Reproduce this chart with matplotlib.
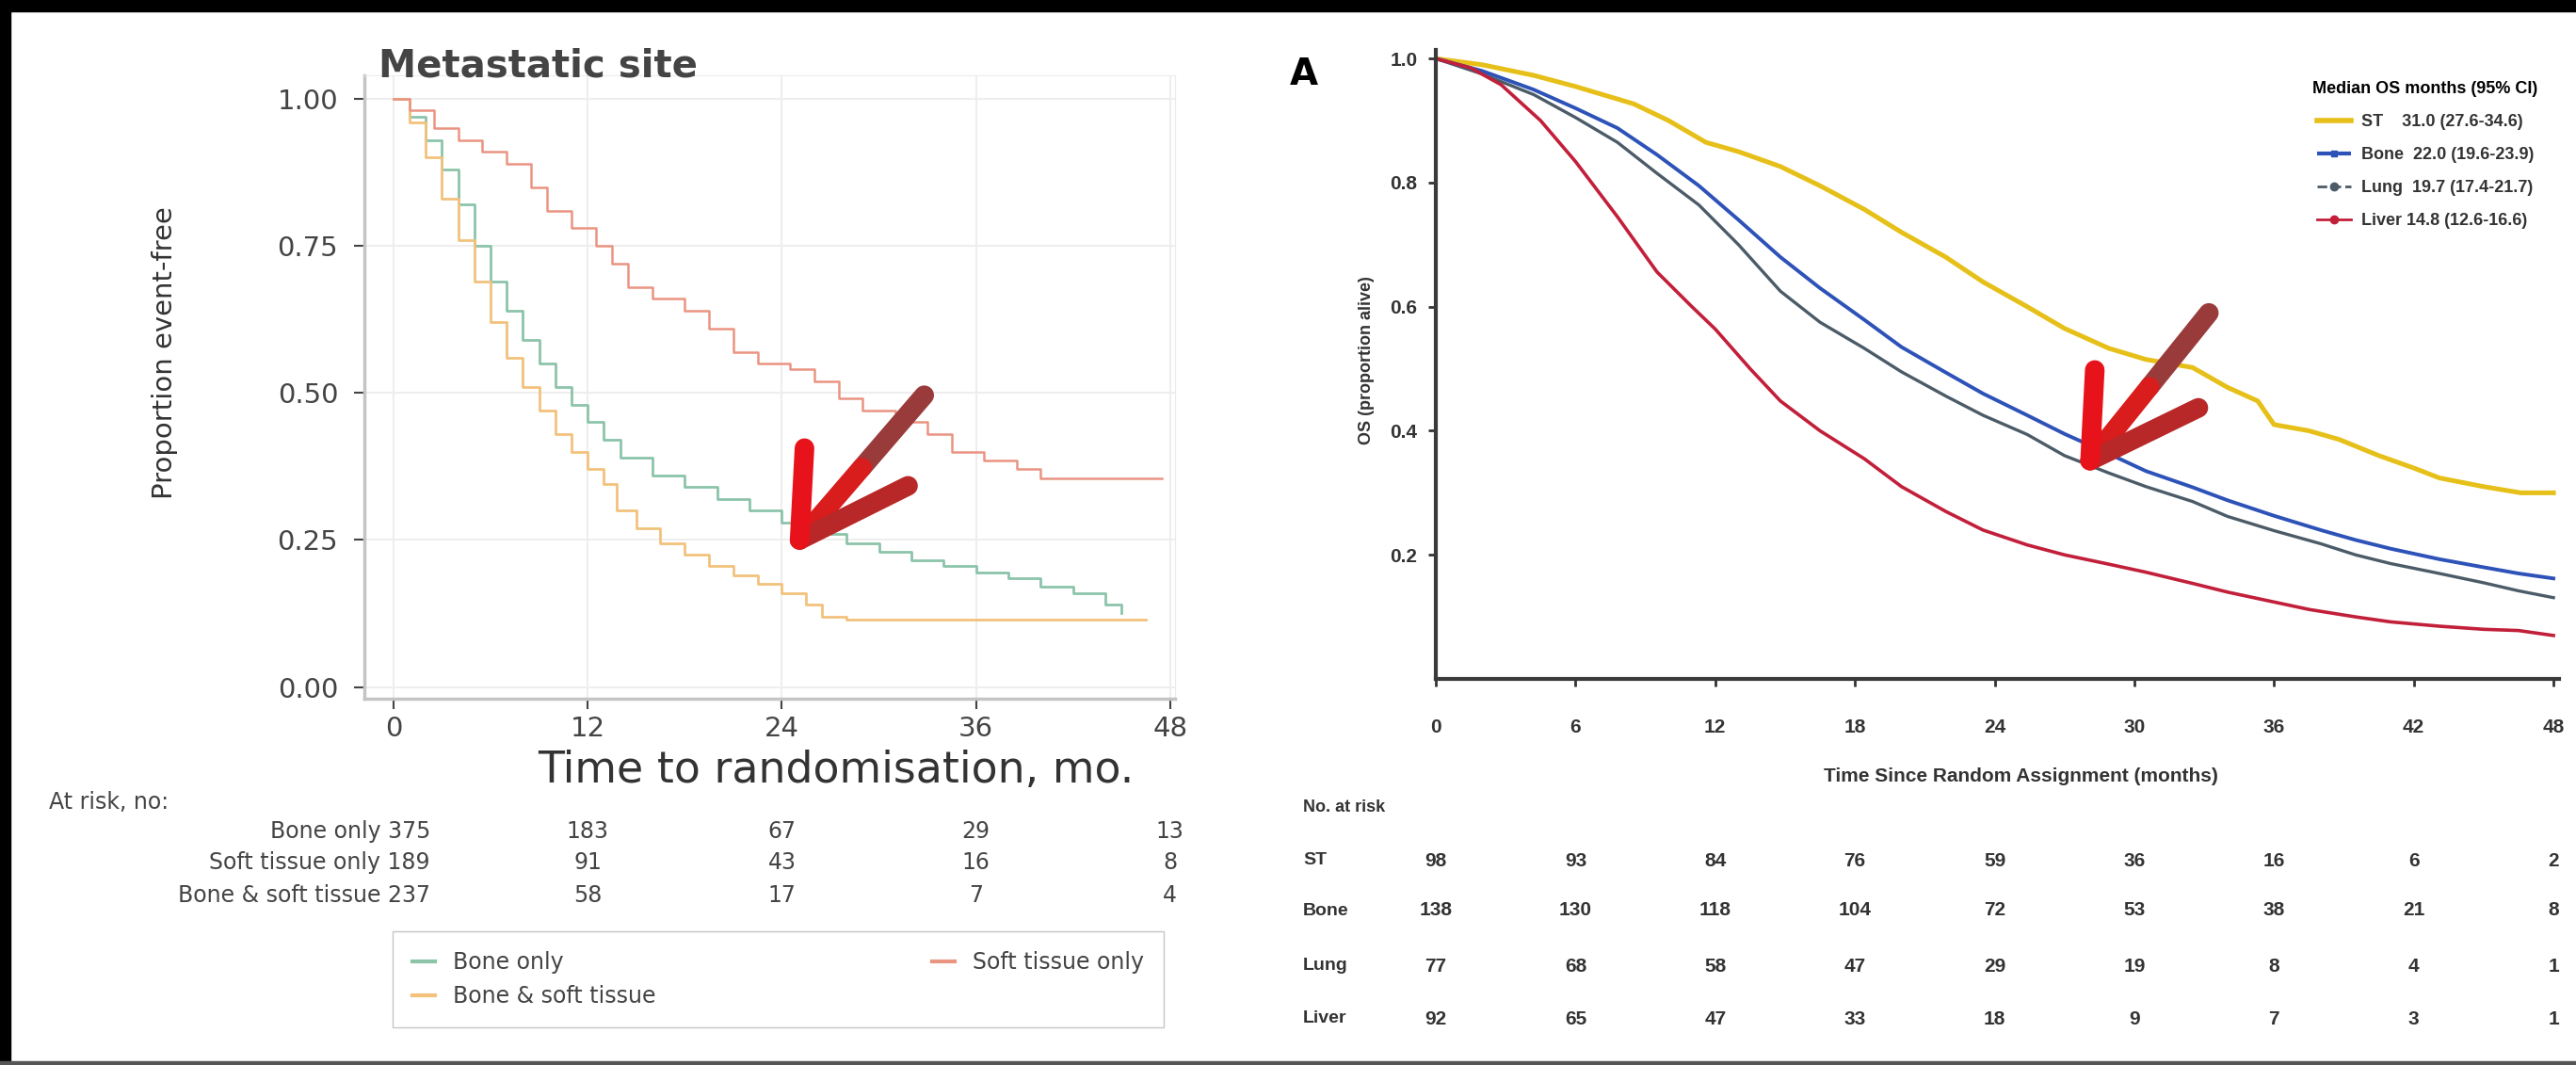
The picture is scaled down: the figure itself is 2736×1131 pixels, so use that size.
import numpy as np
import matplotlib.pyplot as plt
from matplotlib.lines import Line2D
from matplotlib.patches import Rectangle
from matplotlib.transforms import blended_transform_factory

# ---- left panel: metastatic site (proportion event-free) ----
bone_t = [0, 1, 2, 3, 4, 5, 6, 7, 8, 9, 10, 11, 12, 13, 14, 16, 18, 20, 22, 24,
          26, 28, 30, 32, 34, 36, 38, 40, 42, 44, 45]
bone_s = [1.0, 0.97, 0.93, 0.88, 0.82, 0.75, 0.69, 0.64, 0.59, 0.55, 0.51, 0.48,
          0.45, 0.42, 0.39, 0.36, 0.34, 0.32, 0.30, 0.28, 0.26, 0.245, 0.23, 0.215,
          0.205, 0.195, 0.185, 0.17, 0.16, 0.14, 0.125]
soft_t = [0, 1, 2.5, 4, 5.5, 7, 8.5, 9.5, 11, 12.5, 13.5, 14.5, 16, 18, 19.5, 21,
          22.5, 24.5, 26, 27.5, 29, 31, 33, 34.5, 36.5, 38.5, 40, 47.5]
soft_s = [1.0, 0.98, 0.95, 0.93, 0.91, 0.89, 0.85, 0.81, 0.78, 0.75, 0.72, 0.68,
          0.66, 0.64, 0.61, 0.57, 0.55, 0.54, 0.52, 0.49, 0.47, 0.45, 0.43, 0.40,
          0.385, 0.37, 0.355, 0.355]
both_t = [0, 1, 2, 3, 4, 5, 6, 7, 8, 9, 10, 11, 12, 13, 13.8, 15, 16.5, 18, 19.5,
          21, 22.5, 24, 25.5, 26.5, 28, 46.5]
both_s = [1.0, 0.96, 0.90, 0.83, 0.76, 0.69, 0.62, 0.56, 0.51, 0.47, 0.43, 0.40,
          0.37, 0.345, 0.30, 0.27, 0.245, 0.225, 0.205, 0.19, 0.175, 0.16, 0.14,
          0.12, 0.115, 0.115]

left_names = ['Bone only', 'Soft tissue only', 'Bone & soft tissue']
left_risk_times = [0, 12, 24, 36, 48]
risk_bone = [375, 183, 67, 29, 13]
risk_soft = [189, 91, 43, 16, 8]
risk_both = [237, 58, 17, 7, 4]

# ---- right panel: OS by metastatic site ----
st_t = [0, 2, 4.2, 6, 8.5, 10, 11.6, 13, 14.8, 16.5, 18.4, 20, 21.9, 23.5, 25.4, 27,
        28.9, 30.5, 32.5, 34, 35.3, 36, 37.5, 38.8, 40.5, 42, 43.1, 45, 46.6, 48]
st_s = [1.0, 0.99, 0.973, 0.955, 0.927, 0.90, 0.865, 0.85, 0.826, 0.795, 0.757, 0.72,
        0.68, 0.64, 0.60, 0.565, 0.533, 0.515, 0.502, 0.47, 0.448, 0.41, 0.40, 0.386,
        0.36, 0.34, 0.324, 0.31, 0.30, 0.30]
bn_t = [0, 2, 4.2, 6, 7.8, 9.5, 11.3, 13, 14.8, 16.5, 18.4, 20, 21.9, 23.5, 25.4, 27,
        28.9, 30.5, 32.5, 34, 36, 38, 39.5, 41, 43.1, 45, 46.5, 48]
bn_s = [1.0, 0.98, 0.95, 0.92, 0.888, 0.845, 0.795, 0.74, 0.68, 0.63, 0.579, 0.535,
        0.494, 0.46, 0.425, 0.395, 0.363, 0.335, 0.309, 0.288, 0.263, 0.24, 0.224,
        0.21, 0.193, 0.18, 0.17, 0.162]
lg_t = [0, 2, 4.2, 6, 7.8, 9.5, 11.3, 13, 14.8, 16.5, 18.4, 20, 21.9, 23.5, 25.4, 27,
        28.9, 30.5, 32.5, 34, 36, 38, 39.5, 41, 43.1, 45, 46.5, 48]
lg_s = [1.0, 0.975, 0.942, 0.905, 0.865, 0.815, 0.764, 0.70, 0.625, 0.575, 0.533,
        0.495, 0.456, 0.425, 0.394, 0.36, 0.332, 0.31, 0.286, 0.262, 0.239, 0.218,
        0.20, 0.186, 0.17, 0.155, 0.142, 0.131]
lv_t = [0, 1.5, 2.8, 4.5, 6, 7.8, 9.5, 11, 12, 13.5, 14.8, 16.5, 18.4, 20, 21.9, 23.5,
        25.4, 27, 28.9, 30.5, 32.5, 34, 36, 37.5, 39.5, 41, 43.1, 45, 46.5, 48]
lv_s = [1.0, 0.985, 0.958, 0.90, 0.834, 0.745, 0.656, 0.60, 0.564, 0.50, 0.448, 0.40,
        0.355, 0.31, 0.27, 0.24, 0.216, 0.20, 0.185, 0.172, 0.154, 0.14, 0.124, 0.112,
        0.10, 0.092, 0.085, 0.08, 0.078, 0.07]

right_names = ['ST', 'Bone', 'Lung', 'Liver']
right_medians = ['31.0 (27.6-34.6)', '22.0 (19.6-23.9)', '19.7 (17.4-21.7)', '14.8 (12.6-16.6)']
right_risk_times = [0, 6, 12, 18, 24, 30, 36, 42, 48]
risk_st = [98, 93, 84, 76, 59, 36, 16, 6, 2]
risk_bn = [138, 130, 118, 104, 72, 53, 38, 21, 8]
risk_lg = [77, 68, 58, 47, 29, 19, 8, 4, 1]
risk_lv = [92, 65, 47, 33, 18, 9, 7, 3, 1]

NARROW = ['Liberation Sans Narrow', 'Liberation Sans', 'DejaVu Sans']
W, H = 2736, 1131


def fx(px):
    return px / W


def fy(py):
    return 1 - py / H


fig = plt.figure(figsize=(W / 100, H / 100), dpi=100)

# ================= left panel =================
ax1 = fig.add_axes([fx(387), fy(742), (1248 - 387) / W, (742 - 80) / H])
c_bone, c_soft, c_both = '#8cc4aa', '#ea9482', '#f2c27c'
ax1.step(bone_t, bone_s, where='post', color=c_bone, lw=2.0)
ax1.step(both_t, both_s, where='post', color=c_both, lw=2.0)
ax1.step(soft_t, soft_s, where='post', color=c_soft, lw=1.8)
ax1.set_xlim(-1.8, 48.3)
ax1.set_ylim(-0.02, 1.04)
ax1.set_xticks(left_risk_times)
ax1.set_yticks([0, 0.25, 0.5, 0.75, 1.0])
ax1.set_yticklabels(['0.00', '0.25', '0.50', '0.75', '1.00'])
ax1.grid(True, color='#eeeeee', lw=1.5)
for side in ['top', 'right']:
    ax1.spines[side].set_color('#ececec')
for side in ['left', 'bottom']:
    ax1.spines[side].set_color('#c4c4c4')
    ax1.spines[side].set_linewidth(2.5)
ax1.tick_params(axis='both', labelsize=21, colors='#444444', length=8, width=1.5)
ax1.tick_params(axis='y', pad=12)
ax1.tick_params(axis='x', pad=5)
fig.text(fx(402), fy(70), 'Metastatic site', fontsize=29, fontweight='bold',
         color='#444444', va='center', ha='left')
fig.text(fx(175), fy(375), 'Proportion event-free', rotation=90, fontsize=21,
         color='#333333', ha='center', va='center')
fig.text(fx(888), fy(818), 'Time to randomisation, mo.', fontsize=33,
         color='#333333', ha='center', va='center')

# at-risk table
tr1 = blended_transform_factory(ax1.transData, fig.transFigure)
fig.text(fx(52), fy(852), 'At risk, no:', fontsize=17, color='#444444', va='center')
for name, row, py in zip(left_names, [risk_bone, risk_soft, risk_both], [883, 916, 951]):
    fig.text(fx(457), fy(py), f'{name} {row[0]}', fontsize=17, color='#444444',
             ha='right', va='center')
    for t, n in zip(left_risk_times[1:], row[1:]):
        ax1.text(t, fy(py), str(n), transform=tr1, fontsize=17, color='#444444',
                 ha='center', va='center')

h_bone = Line2D([], [], color=c_bone, lw=3)
h_soft = Line2D([], [], color=c_soft, lw=3)
h_both = Line2D([], [], color=c_both, lw=3)
leg1 = fig.legend([h_bone, h_both, h_soft], [left_names[0], left_names[2], left_names[1]],
                  loc='lower left', bbox_to_anchor=(fx(405), fy(1103), (1248 - 405) / W, 105 / H),
                  mode='expand', ncol=2, fontsize=17, fancybox=False, edgecolor='#b8b8b8',
                  handlelength=1.0, labelspacing=0.5, borderpad=0.9)
for txt in leg1.get_texts():
    txt.set_color('#444444')

# ================= right panel =================
ax2 = fig.add_axes([fx(1525), fy(721), (2718 - 1525) / W, (721 - 53) / H])
c_st, c_bn, c_lg, c_lv = '#e6c019', '#2d52b8', '#4b5b67', '#c21f3a'
ax2.plot(st_t, st_s, color=c_st, lw=3.6)
ax2.plot(lg_t, lg_s, color=c_lg, lw=2.4)
ax2.plot(bn_t, bn_s, color=c_bn, lw=2.8)
ax2.plot(lv_t, lv_s, color=c_lv, lw=2.6)
ax2.set_xlim(0, 48.24)
ax2.set_ylim(0, 1.014)
ax2.set_xticks(right_risk_times)
ax2.set_xticklabels([str(t) for t in right_risk_times])
ax2.set_yticks([0.2, 0.4, 0.6, 0.8, 1.0])
ax2.set_yticklabels(['0.2', '0.4', '0.6', '0.8', '1.0'])
for side in ['top', 'right']:
    ax2.spines[side].set_visible(False)
for side in ['left', 'bottom']:
    ax2.spines[side].set_color('#3a3a3a')
    ax2.spines[side].set_linewidth(3)
for lab in ax2.get_xticklabels() + ax2.get_yticklabels():
    lab.set_family(NARROW)
    lab.set_fontweight('bold')
ax2.tick_params(axis='both', labelsize=15, colors='#333333', length=6, width=2)
ax2.tick_params(axis='x', pad=24)
ax2.tick_params(axis='y', pad=8)

fig.text(fx(1385), fy(79), 'A', fontsize=28, fontweight='bold', ha='center', va='center')
fig.text(fx(1452), fy(383), 'OS (proportion alive)', rotation=90, fontsize=13,
         family=NARROW, fontweight='bold', color='#333333', ha='center', va='center')
fig.text(fx(2146), fy(824), 'Time Since Random Assignment (months)', fontsize=15,
         family=NARROW, fontweight='bold', color='#333333', ha='center', va='center')

handles = [Line2D([], [], color=c_st, lw=4),
           Line2D([], [], color=c_bn, lw=3, ls='--', marker='s', ms=5),
           Line2D([], [], color=c_lg, lw=2, ls='--', marker='o', ms=6),
           Line2D([], [], color=c_lv, lw=2, ls='-', marker='o', ms=6)]
labels = [f'{n:<6}{m}' for n, m in zip(right_names, right_medians)]
leg2 = ax2.legend(handles, labels, title='Median OS months (95% CI)', loc='upper left',
                  bbox_to_anchor=(fx(2440), fy(70)), bbox_transform=fig.transFigure,
                  frameon=False, fontsize=13, title_fontsize=13, handlelength=2.0,
                  numpoints=1, labelspacing=1.0, handletextpad=0.6)
for txt in leg2.get_texts():
    txt.set_family(NARROW)
    txt.set_fontweight('bold')
    txt.set_color('#333333')
leg2.get_title().set_family(NARROW)
leg2.get_title().set_fontweight('bold')

tr2 = blended_transform_factory(ax2.transData, fig.transFigure)
fig.text(fx(1384), fy(858), 'No. at risk', fontsize=13, family=NARROW,
         fontweight='bold', color='#333333', va='center')
for name, row, py in zip(right_names, [risk_st, risk_bn, risk_lg, risk_lv],
                         [914, 967, 1026, 1082]):
    fig.text(fx(1384), fy(py), name, fontsize=14, family=NARROW, fontweight='bold',
             color='#333333', va='center')
    for t, n in zip(right_risk_times, row):
        ax2.text(t, fy(py), str(n), transform=tr2, fontsize=15, family=NARROW,
                 fontweight='bold', color='#333333', ha='center', va='center')


# ---- red arrows (annotation marks) ----
def red_arrow(ax, tail, tip, s1, s2):
    mid = ((tail[0] + tip[0]) / 2, (tail[1] + tip[1]) / 2)
    kw = dict(lw=15, solid_capstyle='round', clip_on=False, zorder=10)
    ax.plot([tail[0], mid[0]], [tail[1], mid[1]], color='#9a3b3b', **kw)
    ax.plot([mid[0], tip[0]], [mid[1], tip[1]], color='#d91c1c', **kw)
    ax.plot([s2[0], tip[0]], [s2[1], tip[1]], color='#b82828', **kw)
    ax.plot([s1[0], tip[0]], [s1[1], tip[1]], color='#e8121a', **kw)


red_arrow(ax1, (32.8, 0.496), (25.1, 0.25), (25.4, 0.406), (31.8, 0.342))
red_arrow(ax2, (33.2, 0.59), (28.1, 0.352), (28.3, 0.498), (32.75, 0.437))

# ---- screenshot frame ----
fig.patches.append(Rectangle((0, fy(12)), 1, 12 / H, transform=fig.transFigure,
                             color='black', zorder=20))
fig.patches.append(Rectangle((0, 0), 11 / W, 1, transform=fig.transFigure,
                             color='black', zorder=20))
fig.patches.append(Rectangle((0, 0), 1, 4 / H, transform=fig.transFigure,
                             color='#555555', zorder=20))

fig.savefig('out.png', dpi=100)
